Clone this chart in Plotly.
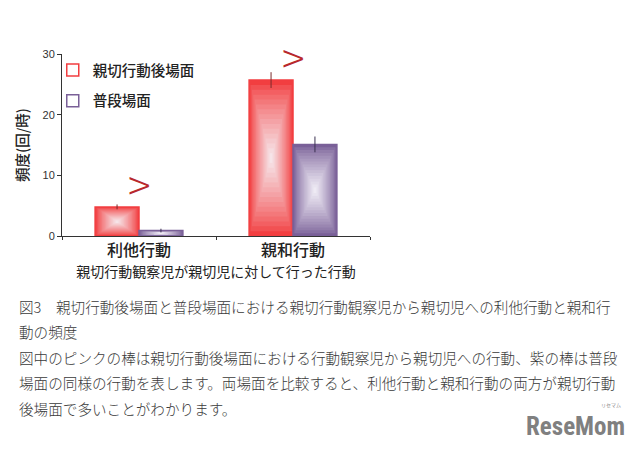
import plotly.graph_objects as go

# data
categories = ["利他行動", "親和行動"]
kind_scene = [4.8, 25.7]       # 親切行動後場面
kind_err = [0.4, 1.3]
usual_scene = [0.9, 15.1]      # 普段場面
usual_err = [0.3, 1.3]
series_names = ["親切行動後場面", "普段場面"]

caption_lines = [
    "図3　親切行動後場面と普段場面における親切行動観察児から親切児への利他行動と親和行",
    "動の頻度",
    "図中のピンクの棒は親切行動後場面における行動観察児から親切児への行動、紫の棒は普段",
    "場面の同様の行動を表します。両場面を比較すると、利他行動と親和行動の両方が親切行動",
    "後場面で多いことがわかります。",
]

JP = "Noto Sans CJK JP"
BW = 0.285          # bar width in category units
N = 16              # layers used to fake the rectangular gradient


def mix(c0, c1, t):
    return "rgb(%d,%d,%d)" % tuple(round(a + (b - a) * t) for a, b in zip(c0, c1))


fig = go.Figure()


def gradient_bars(values, errs, name, off, edge, centre, err_col, group):
    for k in range(N):
        f = k / N
        t = (k / (N - 1)) ** 0.8
        fig.add_trace(go.Bar(
            x=categories,
            y=[v * (1 - f) for v in values],
            base=[v * f / 2 for v in values],
            width=BW * (1 - f),
            offset=off + BW * f / 2,
            marker=dict(color=mix(edge, centre, t), line=dict(width=0)),
            showlegend=False, hoverinfo="skip",
        ))
    # transparent top trace carries error bars and the legend entry
    fig.add_trace(go.Bar(
        x=categories, y=values, width=BW, offset=off, name=name,
        legendgroup=group,
        marker=dict(color="rgba(255,255,255,0)",
                    line=dict(color=mix(edge, edge, 0), width=1.5)),
        error_y=dict(type="data", array=errs, color=err_col, thickness=1, width=0),
    ))


gradient_bars(kind_scene, kind_err, series_names[0], -BW,
              (242, 62, 64), (246, 228, 232), "#7a2a2a", "a")
gradient_bars(usual_scene, usual_err, series_names[1], 0,
              (122, 96, 152), (238, 234, 244), "#3a3050", "b")

# significance marks
for i, (a, b) in enumerate(zip(kind_scene, usual_scene)):
    fig.add_annotation(x=i, y=max(a, b) + 4.0, xref="x", yref="y",
                       text=">", showarrow=False, yanchor="middle",
                       font=dict(family=JP, size=42, weight=300, color="#b8282c"))

# caption below the chart
for j, line in enumerate(caption_lines):
    fig.add_annotation(x=-0.146, y=-0.385 - j * 0.1401, xref="paper", yref="paper",
                       text=line, showarrow=False, xanchor="left", yanchor="middle",
                       font=dict(family=JP, size=14.6, weight=300, color="#3a3a3a"))

fig.add_annotation(x=1.834, y=-1.049, xref="paper", yref="paper", text="<b>ReseMom</b>",
                   showarrow=False, xanchor="right", yanchor="middle",
                   font=dict(family="Roboto Condensed, Roboto", size=25, color="#808080"))
fig.add_annotation(x=1.822, y=-0.93, xref="paper", yref="paper", text="リセマム",
                   showarrow=False, xanchor="right", yanchor="middle",
                   font=dict(family=JP, size=5, color="#888"))

# the page body adds an 8px offset, so the margins are trimmed by 8px
fig.update_layout(
    width=640, height=450,
    margin=dict(l=54, r=278, t=46, b=222),
    paper_bgcolor="white", plot_bgcolor="white",
    barmode="overlay",
    showlegend=True,
    legend=dict(x=-0.03, y=1.0, xanchor="left", yanchor="top",
                bgcolor="rgba(0,0,0,0)", itemwidth=30, tracegroupgap=9,
                traceorder="grouped",
                font=dict(family=JP, size=14.5, weight=500, color="#222")),
    font=dict(family=JP, color="#222"),
)
fig.update_xaxes(
    range=[-0.5, 1.5], showline=True, linecolor="#333", linewidth=1,
    ticks="outside", tickson="boundaries", ticklen=3, tickcolor="#333",
    tickfont=dict(family=JP, size=16, weight=500, color="#222"),
    title=dict(text="親切行動観察児が親切児に対して行った行動", standoff=6,
               font=dict(family=JP, size=14, color="#222")),
    showgrid=False,
)
fig.update_yaxes(
    range=[0, 30], tickvals=[0, 10, 20, 30], showline=True, linecolor="#333",
    linewidth=1, ticks="outside", ticklen=4, tickcolor="#333", showgrid=False,
    zeroline=False, tickfont=dict(family="Liberation Sans", size=11, color="#333"),
    title=dict(text="頻度(回/時)", standoff=10,
               font=dict(family=JP, size=14.5, weight=500, color="#222")),
)

fig.write_html("out.html")
